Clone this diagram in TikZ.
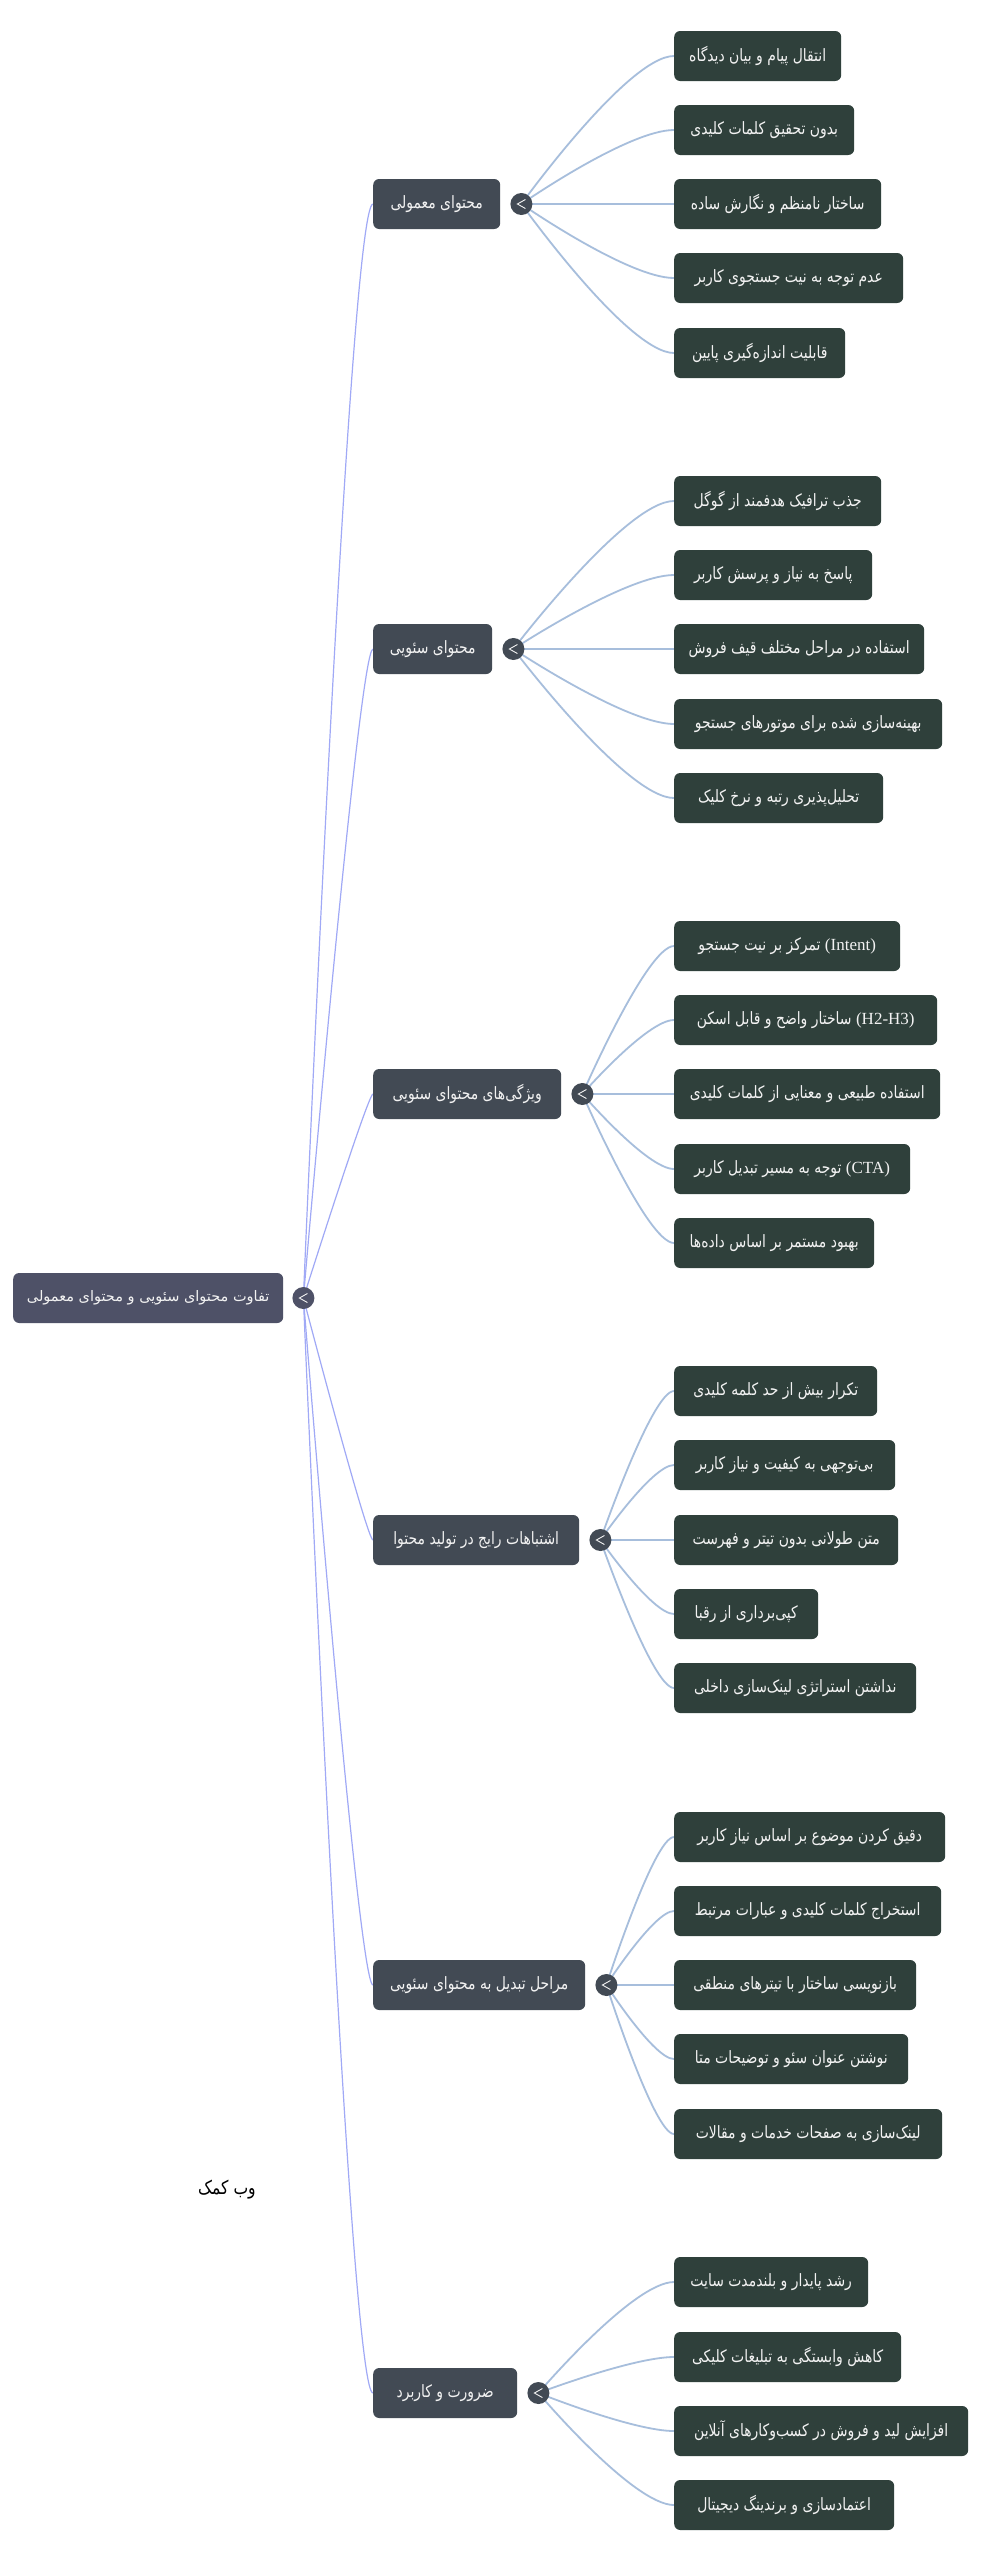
\documentclass[tikz,border=0pt]{standalone}
\usepackage{fontspec}
\TeXXeTstate=1
\newfontfamily\fa[Script=Arabic,FakeStretch=0.82]{DejaVu Sans}
\newfontfamily\faw[Script=Arabic]{DejaVu Sans}
\newfontfamily\lat{Liberation Serif}
\usetikzlibrary{calc,backgrounds}
\definecolor{rootc}{HTML}{4E5167}
\definecolor{brc}{HTML}{424A54}
\definecolor{leafc}{HTML}{2F403B}
\definecolor{rline}{HTML}{A0A9F6}
\definecolor{lline}{HTML}{A7BEDC}
\definecolor{txt}{HTML}{F2F2F2}
\newcommand\rtl[1]{\beginR#1\endR}
\newcommand\leafln[3]{\draw[leafline] (#1.center) .. controls (#1.center) and ($(#2.west)+(-#3,0)$) .. (#2.west);}
\newcommand\rootln[2]{\draw[rootline] (rk.center) .. controls (rk.center) and ($(#1.west)+(-#2,0)$) .. (#1.west);}
\begin{document}
\begin{tikzpicture}[x=1pt,y=-1pt,
  box/.style={rectangle, rounded corners=6pt, text=txt, minimum height=50pt, inner xsep=0pt, inner ysep=0pt, anchor=west},
  rootbox/.style={box, fill=rootc, font=\faw\fontsize{14.5}{18}\selectfont},
  brbox/.style={box, fill=brc, font=\fa\fontsize{17}{20}\selectfont},
  leafbox/.style={box, fill=leafc, font=\fa\fontsize{17}{20}\selectfont},
  knob/.style={circle, fill=#1, minimum size=22pt, inner sep=0pt,
    path picture={\draw[txt, line width=0.9pt]
      ([xshift=4pt,yshift=4.5pt]path picture bounding box.center) --
      ([xshift=-4pt]path picture bounding box.center) --
      ([xshift=4pt,yshift=-4.5pt]path picture bounding box.center);}},
  rootline/.style={draw=rline, line width=1.2pt},
  leafline/.style={draw=lline, line width=1.8pt},
  wmark/.style={text=black, font=\fa\fontsize{19}{22}\selectfont}
]
\path[use as bounding box] (0,0) rectangle (1008,2560);

% root
\node[rootbox, minimum width=270pt] (root) at (13,1298) {\rtl{تفاوت محتوای سئویی و محتوای معمولی}};
\node[knob=rootc] (rk) at ($(root.east)+(20,0)$) {};

% branches
\node[brbox, minimum width=127pt] (b1) at (373,204) {\rtl{محتوای معمولی}};
\node[brbox, minimum width=119pt] (b2) at (373,649) {\rtl{محتوای سئویی}};
\node[brbox, minimum width=188pt] (b3) at (373,1094) {\rtl{ویژگی‌های محتوای سئویی}};
\node[brbox, minimum width=206pt] (b4) at (373,1540) {\rtl{اشتباهات رایج در تولید محتوا}};
\node[brbox, minimum width=212pt] (b5) at (373,1985) {\rtl{مراحل تبدیل به محتوای سئویی}};
\node[brbox, minimum width=144pt] (b6) at (373,2393) {\rtl{ضرورت و کاربرد}};
\foreach \i in {1,...,6}{\node[knob=brc] (k\i) at ($(b\i.east)+(21,0)$) {};}

% leaves branch 1
\node[leafbox, minimum width=167pt] (l11) at (674,56) {\rtl{انتقال پیام و بیان دیدگاه}};
\node[leafbox, minimum width=180pt] (l12) at (674,130) {\rtl{بدون تحقیق کلمات کلیدی}};
\node[leafbox, minimum width=207pt] (l13) at (674,204) {\rtl{ساختار نامنظم و نگارش ساده}};
\node[leafbox, minimum width=229pt] (l14) at (674,278) {\rtl{عدم توجه به نیت جستجوی کاربر}};
\node[leafbox, minimum width=171pt] (l15) at (674,353) {\rtl{قابلیت اندازه‌گیری پایین}};
% leaves branch 2
\node[leafbox, minimum width=207pt] (l21) at (674,501) {\rtl{جذب ترافیک هدفمند از گوگل}};
\node[leafbox, minimum width=198pt] (l22) at (674,575) {\rtl{پاسخ به نیاز و پرسش کاربر}};
\node[leafbox, minimum width=250pt] (l23) at (674,649) {\rtl{استفاده در مراحل مختلف قیف فروش}};
\node[leafbox, minimum width=268pt] (l24) at (674,724) {\rtl{بهینه‌سازی شده برای موتورهای جستجو}};
\node[leafbox, minimum width=209pt] (l25) at (674,798) {\rtl{تحلیل‌پذیری رتبه و نرخ کلیک}};
% leaves branch 3
\node[leafbox, minimum width=226pt] (l31) at (674,946) {\rtl{تمرکز بر نیت جستجو} {\lat (Intent)}};
\node[leafbox, minimum width=263pt] (l32) at (674,1020) {\rtl{ساختار واضح و قابل اسکن} {\lat (H2-H3)}};
\node[leafbox, minimum width=266pt] (l33) at (674,1094) {\rtl{استفاده طبیعی و معنایی از کلمات کلیدی}};
\node[leafbox, minimum width=236pt] (l34) at (674,1169) {\rtl{توجه به مسیر تبدیل کاربر} {\lat (CTA)}};
\node[leafbox, minimum width=200pt] (l35) at (674,1243) {\rtl{بهبود مستمر بر اساس داده‌ها}};
% leaves branch 4
\node[leafbox, minimum width=203pt] (l41) at (674,1391) {\rtl{تکرار بیش از حد کلمه کلیدی}};
\node[leafbox, minimum width=221pt] (l42) at (674,1465) {\rtl{بی‌توجهی به کیفیت و نیاز کاربر}};
\node[leafbox, minimum width=224pt] (l43) at (674,1540) {\rtl{متن طولانی بدون تیتر و فهرست}};
\node[leafbox, minimum width=144pt] (l44) at (674,1614) {\rtl{کپی‌برداری از رقبا}};
\node[leafbox, minimum width=242pt] (l45) at (674,1688) {\rtl{نداشتن استراتژی لینک‌سازی داخلی}};
% leaves branch 5
\node[leafbox, minimum width=271pt] (l51) at (674,1837) {\rtl{دقیق کردن موضوع بر اساس نیاز کاربر}};
\node[leafbox, minimum width=267pt] (l52) at (674,1911) {\rtl{استخراج کلمات کلیدی و عبارات مرتبط}};
\node[leafbox, minimum width=242pt] (l53) at (674,1985) {\rtl{بازنویسی ساختار با تیترهای منطقی}};
\node[leafbox, minimum width=234pt] (l54) at (674,2059) {\rtl{نوشتن عنوان سئو و توضیحات متا}};
\node[leafbox, minimum width=268pt] (l55) at (674,2134) {\rtl{لینک‌سازی به صفحات خدمات و مقالات}};
% leaves branch 6
\node[leafbox, minimum width=194pt] (l61) at (674,2282) {\rtl{رشد پایدار و بلندمدت سایت}};
\node[leafbox, minimum width=227pt] (l62) at (674,2357) {\rtl{کاهش وابستگی به تبلیغات کلیکی}};
\node[leafbox, minimum width=294pt] (l63) at (674,2431) {\rtl{افزایش لید و فروش در کسب‌وکارهای آنلاین}};
\node[leafbox, minimum width=220pt] (l64) at (674,2505) {\rtl{اعتمادسازی و برندینگ دیجیتال}};

% watermark
\node[wmark] (wm) at (227,2190) {\rtl{وب کمک}};

\begin{pgfonlayer}{background}
\fill[white] (0,0) rectangle (1008,2560);
\rootln{b1}{24}
\rootln{b2}{14}
\rootln{b3}{5}
\rootln{b4}{6}
\rootln{b5}{15}
\rootln{b6}{24}
\foreach \j in {1,...,5}{\leafln{k1}{l1\j}{46}}
\foreach \j in {1,...,5}{\leafln{k2}{l2\j}{48}}
\foreach \j in {1,...,5}{\leafln{k3}{l3\j}{27}}
\foreach \j in {1,...,5}{\leafln{k4}{l4\j}{22}}
\foreach \j in {1,...,5}{\leafln{k5}{l5\j}{20}}
\foreach \j in {1,...,4}{\leafln{k6}{l6\j}{41}}
\end{pgfonlayer}
\end{tikzpicture}
\end{document}
